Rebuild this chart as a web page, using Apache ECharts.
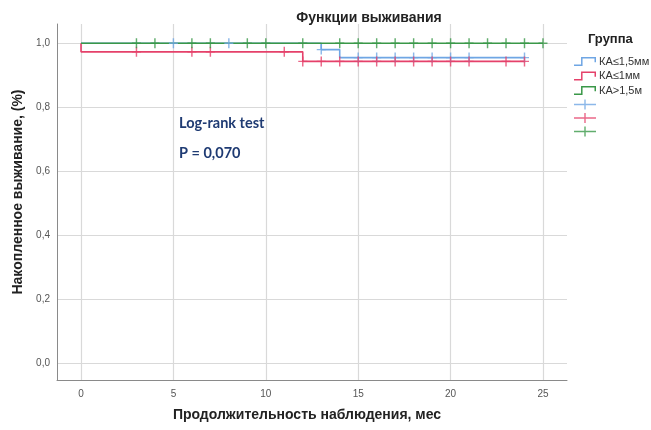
<!DOCTYPE html>
<html>
<head>
<meta charset="utf-8">
<script src="https://cdn.jsdelivr.net/npm/echarts@6/dist/echarts.min.js"></script>
<style>html,body{margin:0;padding:0;background:#fff}#c{width:651px;height:430px}</style>
</head>
<body>
<div id="c"></div>
<script>
// Survival step curves: [time, survival]
var groupNames = ['КА≤1,5мм', 'КА≤1мм', 'КА>1,5м'];
var curveBlue  = [[0, 1.0], [13, 1.0], [13, 0.980], [14, 0.980], [14, 0.955], [24, 0.955]];
var curveRed   = [[0, 1.0], [0, 0.973], [12, 0.973], [12, 0.943], [24, 0.943]];
var curveGreen = [[0, 1.0], [25, 1.0]];
// Censored observations: [time, survival]
var censBlue  = [[5, 1.0], [8, 1.0], [13, 0.980], [15, 0.955], [16, 0.955], [17, 0.955], [18, 0.955], [19, 0.955], [20, 0.955], [21, 0.955], [24, 0.955]];
var censRed   = [[3, 0.973], [6, 0.973], [7, 0.973], [11, 0.973], [12, 0.943], [13, 0.943], [14, 0.943], [15, 0.943], [16, 0.943], [17, 0.943], [18, 0.943], [19, 0.943], [20, 0.943], [21, 0.943], [23, 0.943], [24, 0.943]];
var censGreen = [[3, 1.0], [4, 1.0], [6, 1.0], [7, 1.0], [9, 1.0], [10, 1.0], [12, 1.0], [14, 1.0], [15, 1.0], [16, 1.0], [17, 1.0], [18, 1.0], [19, 1.0], [20, 1.0], [21, 1.0], [22, 1.0], [23, 1.0], [24, 1.0], [25, 1.0]];
var annotLines = ['Log-rank test', 'P = 0,070'];

var colors = ['#6fa6e4', '#e5416a', '#3a9848'];
var stepIcon = 'path://M0,8h8v1.4h-8z M6.6,1h1.4v8.4h-1.4z M6.6,1h14v1.4h-14z M19.2,1h1.4v5h-1.4z';
var plusIcon = 'path://M0,4.3h22v1.4h-22z M10.3,0h1.4v10h-1.4z';
var censorSymbol = 'path://M0,4.3h10v1.4h-10z M4.2,0h1.6v10h-1.6z';

var chart = echarts.init(document.getElementById('c'), null, {renderer: 'canvas'});
var curves = [curveBlue, curveRed, curveGreen];
var cens = [censBlue, censRed, censGreen];
var series = [];
for (var i = 0; i < 3; i++) {
  series.push({
    name: groupNames[i], type: 'line', data: curves[i], showSymbol: false, symbol: 'none',
    lineStyle: {color: colors[i], width: 1.6}, itemStyle: {color: colors[i]}, animation: false, z: 3 + i
  });
}
var censNames = [' ', '  ', '   '];
for (var j = 0; j < 3; j++) {
  series.push({
    name: censNames[j], type: 'scatter', data: cens[j], symbol: censorSymbol, symbolSize: [9, 10],
    itemStyle: {color: colors[j]}, animation: false, z: 6 + j
  });
}

var legendData = [];
for (var k = 0; k < 3; k++) legendData.push({name: groupNames[k], icon: stepIcon, itemStyle: {color: colors[k]}});
for (var m = 0; m < 3; m++) legendData.push({name: censNames[m], icon: plusIcon, itemStyle: {color: colors[m]}});

var gridColors = ['rgba(0,0,0,0)', '#d9d9d9', '#d9d9d9', '#d9d9d9', '#d9d9d9', '#d9d9d9', '#d9d9d9', 'rgba(0,0,0,0)'];

chart.setOption({
  backgroundColor: '#fff',
  animation: false,
  textStyle: {fontFamily: 'Liberation Sans, Arial, sans-serif'},
  title: [
    {text: 'Функции выживания', left: 364, top: 6, textAlign: 'center',
     textStyle: {fontSize: 14, fontWeight: 'bold', color: '#222', fontFamily: 'Liberation Sans'}},
    {text: 'Группа', left: 583, top: 28,
     textStyle: {fontSize: 13, fontWeight: 'bold', color: '#222', fontFamily: 'Liberation Sans'}}
  ],
  legend: {
    orient: 'vertical', left: 569, top: 51, itemWidth: 22, itemHeight: 10, itemGap: 3.5,
    data: legendData, selectedMode: false,
    formatter: function (n) { return n.trim() ? n : ''; },
    textStyle: {fontSize: 11, color: '#333', padding: [0, 0, 0, -2]}
  },
  grid: {left: 57, right: 84, top: 24, bottom: 50, containLabel: false},
  xAxis: {
    type: 'value', min: -1.3, max: 26.3, splitNumber: 5,
    name: 'Продолжительность наблюдения, мес', nameLocation: 'middle', nameGap: 28,
    nameTextStyle: {fontSize: 14, fontWeight: 'bold', color: '#222', padding: [0, 10, 0, 0]},
    axisLine: {show: true, onZero: false, lineStyle: {color: '#8a8a8a', width: 1}},
    axisTick: {show: false},
    axisLabel: {color: '#555', fontSize: 10, margin: 9, showMinLabel: false, showMaxLabel: false},
    splitLine: {show: true, lineStyle: {color: gridColors, width: 1.2}}
  },
  yAxis: {
    type: 'value', min: -0.053, max: 1.06, splitNumber: 5,
    name: 'Накопленное выживание, (%)', nameLocation: 'middle', nameGap: 30, nameRotate: 90,
    nameTextStyle: {fontSize: 14, fontWeight: 'bold', color: '#222', padding: [0, 0, 0, 20]},
    axisLine: {show: true, onZero: false, lineStyle: {color: '#8a8a8a', width: 1}},
    axisTick: {show: false},
    axisLabel: {color: '#555', fontSize: 10, margin: 7, showMinLabel: false, showMaxLabel: false,
      formatter: function (v) { return v.toFixed(1).replace('.', ','); }},
    splitLine: {show: true, lineStyle: {color: gridColors, width: 1.2}}
  },
  graphic: [
    {type: 'text', left: 179, top: 116, style: {text: annotLines[0], fill: '#1f3b73', font: 'bold 14.5px Lato, sans-serif'}},
    {type: 'text', left: 179, top: 146, style: {text: annotLines[1], fill: '#1f3b73', font: 'bold 14.5px Lato, sans-serif'}}
  ],
  series: series
});
</script>
</body>
</html>
